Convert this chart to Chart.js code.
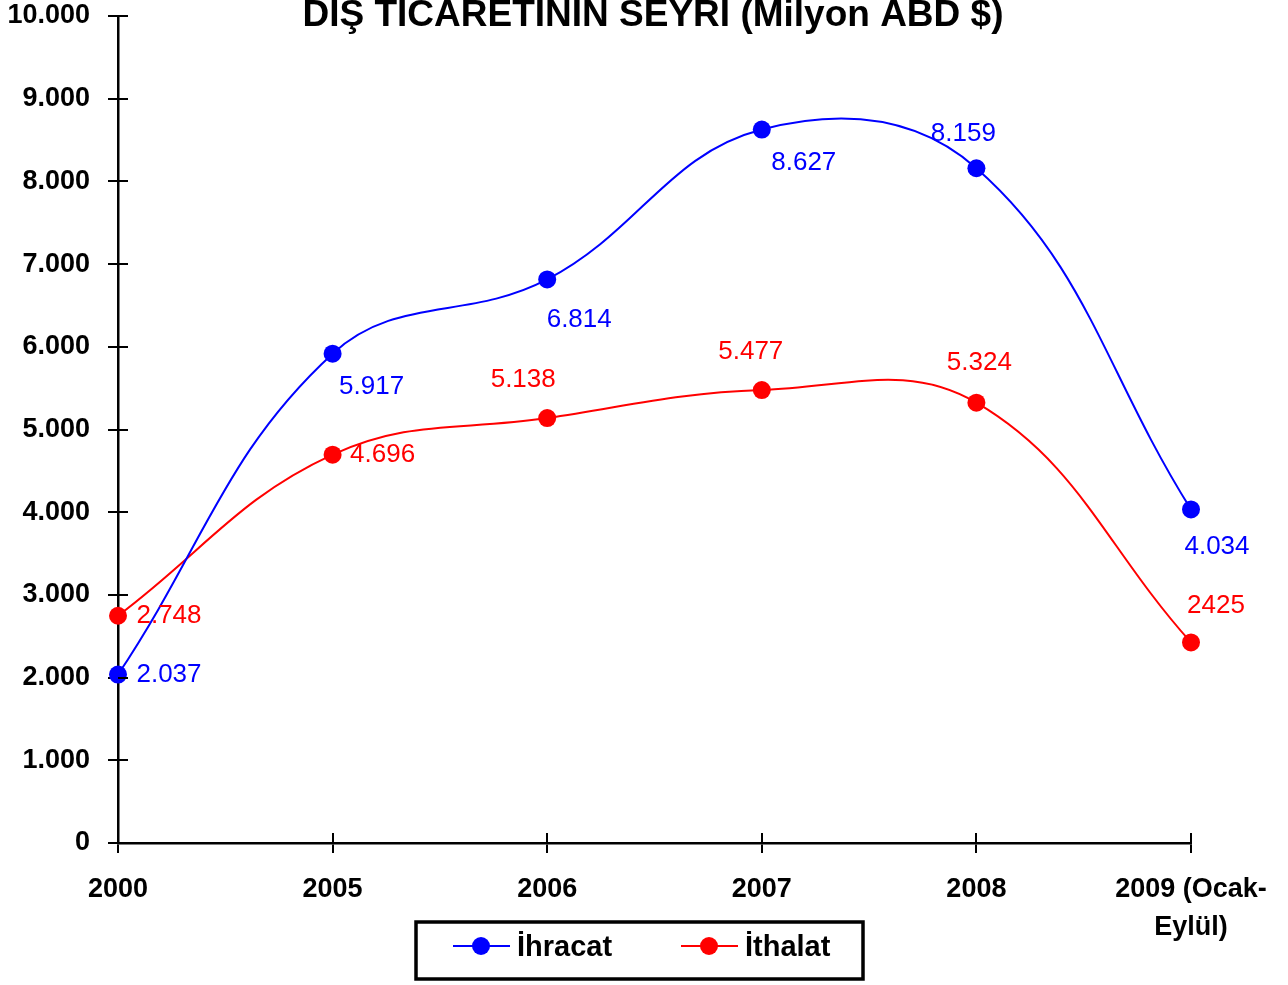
<!DOCTYPE html>
<html>
<head>
<meta charset="utf-8">
<script src="https://cdn.jsdelivr.net/npm/chart.js@4/dist/chart.umd.min.js"></script>
<style>
    body { margin: 0; background: #fff; }
    #kutu { width: 1288px; height: 985px; position: relative; }
</style>
</head>
<body>
<div id="kutu"><canvas id="grafik"></canvas></div>
<script>
// Veriler (Milyon ABD $)
const yillar = ['2000', '2005', '2006', '2007', '2008', ['2009 (Ocak-', 'Eylül)']];
const ihracat = [2037, 5917, 6814, 8627, 8159, 4034];
const ithalat = [2748, 4696, 5138, 5477, 5324, 2425];
const ihracatEtiket = ['2.037', '5.917', '6.814', '8.627', '8.159', '4.034'];
const ithalatEtiket = ['2.748', '4.696', '5.138', '5.477', '5.324', '2425'];
const baslik = 'DIŞ TICARETININ SEYRI (Milyon ABD $)';

// etiketlerin noktaya göre kaydırılması (piksel)
const etiketKaydir = [
    [[51, 0], [39, 33], [32, 40], [42, 33], [-13, -34], [26, 37]],
    [[51, 0], [50, 0], [-24, -38], [-11, -38], [3, -40], [25, -37]]
];

const yazi = '"Liberation Sans", Arial, sans-serif';

const binlik = (v) => String(v).replace(/\B(?=(\d{3})+(?!\d))/g, '.');

// başlık, veri etiketleri, çapraz tik çizgileri ve lejant
const ekstra = {
    id: 'ekstra',
    afterDatasetsDraw(chart) {
        const ctx = chart.ctx;
        const alan = chart.chartArea;
        const xs = chart.scales.x, ys = chart.scales.y;
        ctx.save();

        // iç tik çizgileri
        ctx.strokeStyle = '#000';
        ctx.lineWidth = 2;
        ctx.beginPath();
        ys.ticks.forEach(t => {
            const y = Math.round(ys.getPixelForValue(t.value));
            ctx.moveTo(alan.left, y); ctx.lineTo(alan.left + 10, y);
        });
        xs.ticks.forEach((t, i) => {
            const x = Math.round(xs.getPixelForTick(i));
            ctx.moveTo(x, alan.bottom); ctx.lineTo(x, alan.bottom - 10);
        });
        ctx.stroke();

        // veri etiketleri
        ctx.font = '26px ' + yazi;
        ctx.textAlign = 'center';
        ctx.textBaseline = 'middle';
        const metinler = [ihracatEtiket, ithalatEtiket];
        chart.data.datasets.forEach((ds, d) => {
            const meta = chart.getDatasetMeta(d);
            ctx.fillStyle = ds.borderColor;
            meta.data.forEach((p, i) => {
                const k = etiketKaydir[d][i];
                ctx.fillText(metinler[d][i], p.x + k[0], p.y + k[1]);
            });
        });

        // başlık
        ctx.fillStyle = '#000';
        ctx.font = 'bold 37px ' + yazi;
        ctx.fillText(baslik, 653, 16);

        // lejant
        ctx.lineWidth = 3.5;
        ctx.strokeRect(416, 922, 447, 57);
        const ogeler = [
            { ad: 'İhracat', renk: '#0000ff', x: 453 },
            { ad: 'İthalat', renk: '#ff0000', x: 681 }
        ];
        ogeler.forEach(o => {
            ctx.strokeStyle = o.renk;
            ctx.lineWidth = 2;
            ctx.beginPath();
            ctx.moveTo(o.x, 946); ctx.lineTo(o.x + 57, 946);
            ctx.stroke();
            ctx.fillStyle = o.renk;
            ctx.beginPath();
            ctx.arc(o.x + 28, 946, 9, 0, Math.PI * 2);
            ctx.fill();
            ctx.fillStyle = '#000';
            ctx.font = 'bold 29px ' + yazi;
            ctx.textAlign = 'left';
            ctx.fillText(o.ad, o.x + 64, 948);
        });
        ctx.restore();
    }
};

new Chart(document.getElementById('grafik').getContext('2d'), {
    type: 'line',
    data: {
        labels: yillar,
        datasets: [
            {
                label: 'İhracat',
                data: ihracat,
                borderColor: '#0000ff',
                backgroundColor: '#0000ff',
                borderWidth: 2,
                pointRadius: 9,
                pointBorderWidth: 0,
                tension: 0.4
            },
            {
                label: 'İthalat',
                data: ithalat,
                borderColor: '#ff0000',
                backgroundColor: '#ff0000',
                borderWidth: 2,
                pointRadius: 9,
                pointBorderWidth: 0,
                tension: 0.4
            }
        ]
    },
    options: {
        responsive: true,
        maintainAspectRatio: false,
        animation: false,
        layout: { padding: { left: 0, right: 97, top: 16, bottom: 0 } },
        scales: {
            x: {
                offset: false,
                afterFit: (s) => { s.height = 142; },
                border: { display: true, color: '#000', width: 2.5 },
                grid: { display: true, drawOnChartArea: false, drawTicks: true, tickLength: 10, color: '#000', lineWidth: 2 },
                ticks: {
                    color: '#000',
                    padding: 18,
                    maxRotation: 0,
                    autoSkip: false,
                    font: { family: yazi, size: 27, weight: 'bold', lineHeight: 1.4 }
                }
            },
            y: {
                min: 0,
                max: 10000,
                // üst boşluğu layout padding belirlesin
                afterFit: (s) => { s.width = 118; s.paddingTop = 0; s.paddingBottom = 0; },
                border: { display: true, color: '#000', width: 2.5 },
                grid: { display: true, drawOnChartArea: false, drawTicks: true, tickLength: 10, color: '#000', lineWidth: 2 },
                ticks: {
                    stepSize: 1000,
                    color: '#000',
                    padding: 18,
                    callback: (v) => binlik(v),
                    font: { family: yazi, size: 27, weight: 'bold' }
                }
            }
        },
        plugins: {
            legend: { display: false },
            title: { display: false },
            tooltip: { enabled: false }
        }
    },
    plugins: [ekstra]
});
</script>
</body>
</html>
